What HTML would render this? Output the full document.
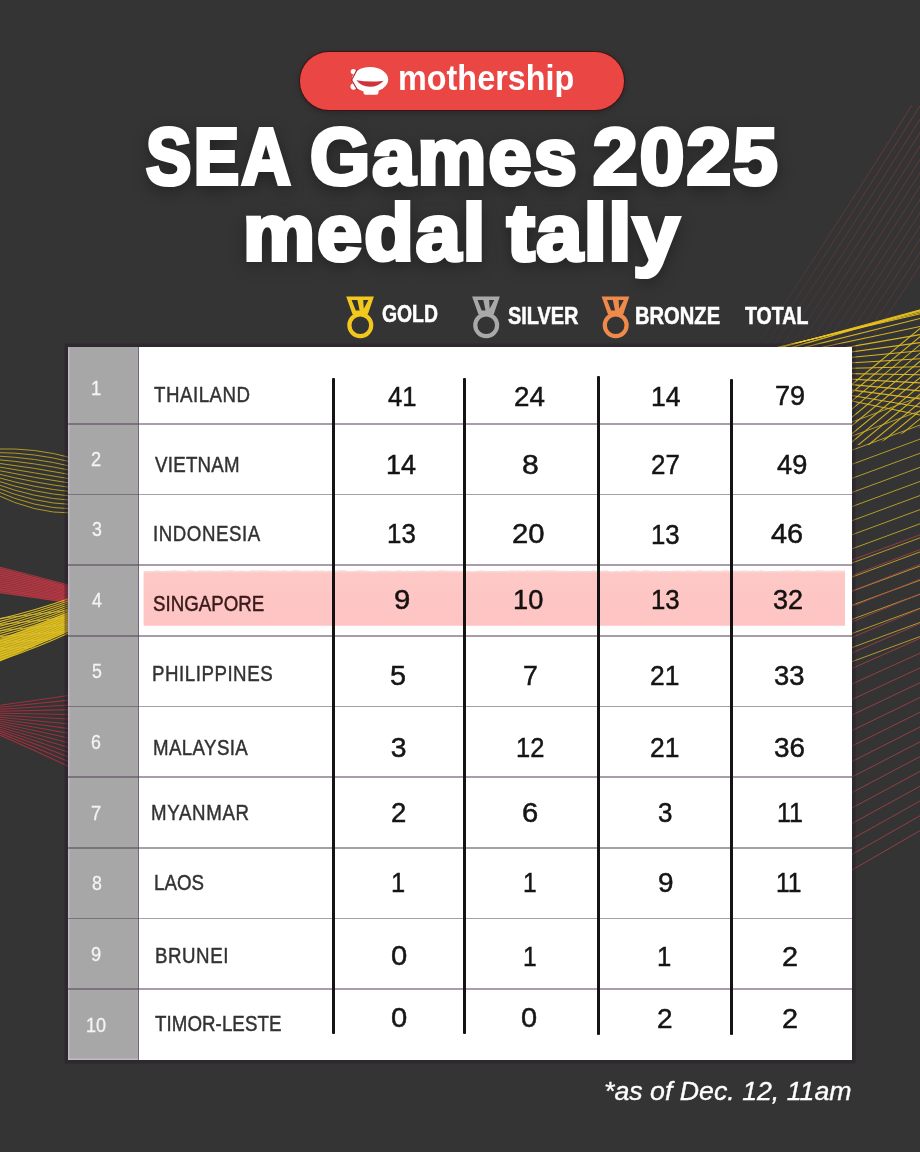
<!DOCTYPE html>
<html><head><meta charset="utf-8">
<style>
html,body{margin:0;padding:0;}
body{width:920px;height:1152px;overflow:hidden;background:#343434;position:relative;font-family:"Liberation Sans",sans-serif;}
.t{position:absolute;white-space:nowrap;transform-origin:0 0;}
.title{text-shadow:0 4px 16px rgba(0,0,0,0.5);-webkit-text-stroke:4.2px #fff;}
.hdr{-webkit-text-stroke:0.5px #fff;}
.foot{-webkit-text-stroke:0.35px #fff;}
#bg{position:absolute;left:0;top:0;}
.pill{position:absolute;left:300px;top:52px;width:324.2px;height:57.7px;border-radius:28.85px;background:#e94644;box-shadow:0 0 0 1px rgba(70,12,12,0.75),0 2px 6px rgba(0,0,0,0.3);}
.tbl{position:absolute;left:67.8px;top:346.5px;width:784.2px;height:713.1px;background:#fff;box-shadow:0 0 0 3.5px rgba(40,22,45,0.38);}
.gcol{position:absolute;left:67.8px;top:346.5px;width:71.3px;height:713.1px;background:#a7a7a7;border-right:1.3px solid #76657e;box-sizing:border-box;box-shadow:inset 1.5px 0 0 rgba(215,200,220,0.55), inset 0 -1.5px 0 rgba(215,200,220,0.55);}
.rl{position:absolute;left:67.8px;width:784.2px;height:1.7px;background:rgba(80,62,86,0.5);}
.vl{position:absolute;width:3px;background:#141414;border-radius:1px;}
.hl{position:absolute;left:143.6px;top:569px;width:701.4px;height:57px;mix-blend-mode:multiply;}
.nm{-webkit-text-stroke:0.45px currentColor;}
.num{-webkit-text-stroke:0.5px #151515;}
.rk{-webkit-text-stroke:0.3px #f4f4f4;}
</style></head><body>
<svg id="bg" width="920" height="1152" viewBox="0 0 920 1152">
<path d="M-5.0,449.0 Q35.0,447.5 72.0,458.0" fill="none" stroke="#c4aa22" stroke-width="1.0" opacity="0.85"/>
<path d="M-5.0,452.5 Q35.0,452.6 72.0,462.2" fill="none" stroke="#c4aa22" stroke-width="1.0" opacity="0.85"/>
<path d="M-5.0,455.9 Q35.0,457.7 72.0,466.5" fill="none" stroke="#c4aa22" stroke-width="1.0" opacity="0.85"/>
<path d="M-5.0,459.4 Q35.0,462.7 72.0,470.7" fill="none" stroke="#c4aa22" stroke-width="1.0" opacity="0.85"/>
<path d="M-5.0,462.8 Q35.0,467.8 72.0,474.9" fill="none" stroke="#c4aa22" stroke-width="1.0" opacity="0.85"/>
<path d="M-5.0,466.3 Q35.0,472.9 72.0,479.2" fill="none" stroke="#c4aa22" stroke-width="1.0" opacity="0.85"/>
<path d="M-5.0,469.8 Q35.0,478.0 72.0,483.4" fill="none" stroke="#c4aa22" stroke-width="1.0" opacity="0.85"/>
<path d="M-5.0,473.2 Q35.0,483.0 72.0,487.6" fill="none" stroke="#c4aa22" stroke-width="1.0" opacity="0.85"/>
<path d="M-5.0,476.7 Q35.0,488.1 72.0,491.8" fill="none" stroke="#c4aa22" stroke-width="1.0" opacity="0.85"/>
<path d="M-5.0,480.2 Q35.0,493.2 72.0,496.1" fill="none" stroke="#c4aa22" stroke-width="1.0" opacity="0.85"/>
<path d="M-5.0,483.6 Q35.0,498.3 72.0,500.3" fill="none" stroke="#c4aa22" stroke-width="1.0" opacity="0.85"/>
<path d="M-5.0,487.1 Q35.0,503.3 72.0,504.5" fill="none" stroke="#c4aa22" stroke-width="1.0" opacity="0.85"/>
<path d="M-5.0,490.5 Q35.0,508.4 72.0,508.8" fill="none" stroke="#c4aa22" stroke-width="1.0" opacity="0.85"/>
<path d="M-5.0,494.0 Q35.0,513.5 72.0,513.0" fill="none" stroke="#c4aa22" stroke-width="1.0" opacity="0.85"/>
<polygon points="-2,567 68,586 68,603 -2,592" fill="#b8343f" opacity="0.55"/>
<path d="M-5.0,566.0 Q35.0,576.0 72.0,586.0" fill="none" stroke="#c23a46" stroke-width="1.2" opacity="0.8"/>
<path d="M-5.0,568.0 Q35.0,577.7 72.0,587.3" fill="none" stroke="#c23a46" stroke-width="1.2" opacity="0.8"/>
<path d="M-5.0,570.0 Q35.0,579.3 72.0,588.6" fill="none" stroke="#c23a46" stroke-width="1.2" opacity="0.8"/>
<path d="M-5.0,572.0 Q35.0,581.0 72.0,589.9" fill="none" stroke="#c23a46" stroke-width="1.2" opacity="0.8"/>
<path d="M-5.0,574.0 Q35.0,582.6 72.0,591.2" fill="none" stroke="#c23a46" stroke-width="1.2" opacity="0.8"/>
<path d="M-5.0,576.0 Q35.0,584.3 72.0,592.5" fill="none" stroke="#c23a46" stroke-width="1.2" opacity="0.8"/>
<path d="M-5.0,578.0 Q35.0,585.9 72.0,593.8" fill="none" stroke="#c23a46" stroke-width="1.2" opacity="0.8"/>
<path d="M-5.0,580.0 Q35.0,587.6 72.0,595.2" fill="none" stroke="#c23a46" stroke-width="1.2" opacity="0.8"/>
<path d="M-5.0,582.0 Q35.0,589.2 72.0,596.5" fill="none" stroke="#c23a46" stroke-width="1.2" opacity="0.8"/>
<path d="M-5.0,584.0 Q35.0,590.9 72.0,597.8" fill="none" stroke="#c23a46" stroke-width="1.2" opacity="0.8"/>
<path d="M-5.0,586.0 Q35.0,592.5 72.0,599.1" fill="none" stroke="#c23a46" stroke-width="1.2" opacity="0.8"/>
<path d="M-5.0,588.0 Q35.0,594.2 72.0,600.4" fill="none" stroke="#c23a46" stroke-width="1.2" opacity="0.8"/>
<path d="M-5.0,590.0 Q35.0,595.8 72.0,601.7" fill="none" stroke="#c23a46" stroke-width="1.2" opacity="0.8"/>
<path d="M-5.0,592.0 Q35.0,597.5 72.0,603.0" fill="none" stroke="#c23a46" stroke-width="1.2" opacity="0.8"/>
<polygon points="-2,640 68,612 68,631.5 -2,662.5" fill="#e9c81c" opacity="0.75"/>
<path d="M-5.0,620.0 Q35.0,610.8 72.0,597.5" fill="none" stroke="#e8c51c" stroke-width="1.2" opacity="0.9"/>
<path d="M-5.0,622.5 Q35.0,613.0 72.0,599.5" fill="none" stroke="#e8c51c" stroke-width="1.2" opacity="0.9"/>
<path d="M-5.0,624.9 Q35.0,615.2 72.0,601.5" fill="none" stroke="#e8c51c" stroke-width="1.2" opacity="0.9"/>
<path d="M-5.0,627.4 Q35.0,617.5 72.0,603.5" fill="none" stroke="#e8c51c" stroke-width="1.2" opacity="0.9"/>
<path d="M-5.0,629.9 Q35.0,619.7 72.0,605.5" fill="none" stroke="#e8c51c" stroke-width="1.2" opacity="0.9"/>
<path d="M-5.0,632.4 Q35.0,621.9 72.0,607.5" fill="none" stroke="#e8c51c" stroke-width="1.2" opacity="0.9"/>
<path d="M-5.0,634.8 Q35.0,624.2 72.0,609.5" fill="none" stroke="#e8c51c" stroke-width="1.2" opacity="0.9"/>
<path d="M-5.0,637.3 Q35.0,626.4 72.0,611.5" fill="none" stroke="#e8c51c" stroke-width="1.2" opacity="0.9"/>
<path d="M-5.0,639.8 Q35.0,628.6 72.0,613.5" fill="none" stroke="#e8c51c" stroke-width="1.2" opacity="0.9"/>
<path d="M-5.0,642.2 Q35.0,630.9 72.0,615.5" fill="none" stroke="#e8c51c" stroke-width="1.2" opacity="0.9"/>
<path d="M-5.0,644.7 Q35.0,633.1 72.0,617.5" fill="none" stroke="#e8c51c" stroke-width="1.2" opacity="0.9"/>
<path d="M-5.0,647.2 Q35.0,635.3 72.0,619.5" fill="none" stroke="#e8c51c" stroke-width="1.2" opacity="0.9"/>
<path d="M-5.0,649.6 Q35.0,637.6 72.0,621.5" fill="none" stroke="#e8c51c" stroke-width="1.2" opacity="0.9"/>
<path d="M-5.0,652.1 Q35.0,639.8 72.0,623.5" fill="none" stroke="#e8c51c" stroke-width="1.2" opacity="0.9"/>
<path d="M-5.0,654.6 Q35.0,642.0 72.0,625.5" fill="none" stroke="#e8c51c" stroke-width="1.2" opacity="0.9"/>
<path d="M-5.0,657.1 Q35.0,644.3 72.0,627.5" fill="none" stroke="#e8c51c" stroke-width="1.2" opacity="0.9"/>
<path d="M-5.0,659.5 Q35.0,646.5 72.0,629.5" fill="none" stroke="#e8c51c" stroke-width="1.2" opacity="0.9"/>
<path d="M-5.0,662.0 Q35.0,648.8 72.0,631.5" fill="none" stroke="#e8c51c" stroke-width="1.2" opacity="0.9"/>
<clipPath id="bc"><polygon points="-2,618 68,597 68,632 -2,663"/></clipPath><g clip-path="url(#bc)">
<line x1="-5.0" y1="619.0" x2="72.0" y2="610.0" stroke="#d8c040" stroke-width="1" opacity="0.8"/>
<line x1="-5.0" y1="625.0" x2="72.0" y2="617.0" stroke="#d8c040" stroke-width="1" opacity="0.8"/>
<line x1="-5.0" y1="631.0" x2="72.0" y2="624.0" stroke="#d8c040" stroke-width="1" opacity="0.8"/>
<line x1="-5.0" y1="637.0" x2="72.0" y2="631.0" stroke="#d8c040" stroke-width="1" opacity="0.8"/>
<line x1="-5.0" y1="643.0" x2="72.0" y2="638.0" stroke="#d8c040" stroke-width="1" opacity="0.8"/>
<line x1="-5.0" y1="649.0" x2="72.0" y2="645.0" stroke="#d8c040" stroke-width="1" opacity="0.8"/>
</g>
<path d="M-5.0,706.0 Q35.0,700.5 72.0,695.0" fill="none" stroke="#b22f3f" stroke-width="1.1" opacity="0.85"/>
<path d="M-5.0,707.8 Q35.0,703.8 72.0,699.9" fill="none" stroke="#b22f3f" stroke-width="1.1" opacity="0.85"/>
<path d="M-5.0,709.6 Q35.0,707.2 72.0,704.7" fill="none" stroke="#b22f3f" stroke-width="1.1" opacity="0.85"/>
<path d="M-5.0,711.4 Q35.0,710.5 72.0,709.6" fill="none" stroke="#b22f3f" stroke-width="1.1" opacity="0.85"/>
<path d="M-5.0,713.2 Q35.0,713.8 72.0,714.5" fill="none" stroke="#b22f3f" stroke-width="1.1" opacity="0.85"/>
<path d="M-5.0,715.0 Q35.0,717.2 72.0,719.3" fill="none" stroke="#b22f3f" stroke-width="1.1" opacity="0.85"/>
<path d="M-5.0,716.8 Q35.0,720.5 72.0,724.2" fill="none" stroke="#b22f3f" stroke-width="1.1" opacity="0.85"/>
<path d="M-5.0,718.6 Q35.0,723.8 72.0,729.1" fill="none" stroke="#b22f3f" stroke-width="1.1" opacity="0.85"/>
<path d="M-5.0,720.4 Q35.0,727.2 72.0,733.9" fill="none" stroke="#b22f3f" stroke-width="1.1" opacity="0.85"/>
<path d="M-5.0,722.2 Q35.0,730.5 72.0,738.8" fill="none" stroke="#b22f3f" stroke-width="1.1" opacity="0.85"/>
<path d="M-5.0,724.0 Q35.0,733.8 72.0,743.7" fill="none" stroke="#b22f3f" stroke-width="1.1" opacity="0.85"/>
<path d="M-5.0,725.8 Q35.0,737.2 72.0,748.5" fill="none" stroke="#b22f3f" stroke-width="1.1" opacity="0.85"/>
<path d="M-5.0,727.6 Q35.0,740.5 72.0,753.4" fill="none" stroke="#b22f3f" stroke-width="1.1" opacity="0.85"/>
<path d="M-5.0,729.4 Q35.0,743.8 72.0,758.3" fill="none" stroke="#b22f3f" stroke-width="1.1" opacity="0.85"/>
<path d="M-5.0,731.2 Q35.0,747.2 72.0,763.1" fill="none" stroke="#b22f3f" stroke-width="1.1" opacity="0.85"/>
<path d="M-5.0,733.0 Q35.0,750.5 72.0,768.0" fill="none" stroke="#b22f3f" stroke-width="1.1" opacity="0.85"/>
<linearGradient id="rg" gradientUnits="userSpaceOnUse" x1="770" y1="350" x2="900" y2="110"><stop offset="0" stop-color="#8f3a3e" stop-opacity="0.1"/><stop offset="0.5" stop-color="#8f3a3e" stop-opacity="0.45"/><stop offset="1" stop-color="#8f3a3e" stop-opacity="0.6"/></linearGradient>
<path d="M754.0,350 Q824.0,245 912.0,105" fill="none" stroke="url(#rg)" stroke-width="1"/>
<path d="M762.5,350 Q832.5,245 920.5,105" fill="none" stroke="url(#rg)" stroke-width="1"/>
<path d="M771.0,350 Q841.0,245 929.0,105" fill="none" stroke="url(#rg)" stroke-width="1"/>
<path d="M779.5,350 Q849.5,245 937.5,105" fill="none" stroke="url(#rg)" stroke-width="1"/>
<path d="M788.0,350 Q858.0,245 946.0,105" fill="none" stroke="url(#rg)" stroke-width="1"/>
<path d="M796.5,350 Q866.5,245 954.5,105" fill="none" stroke="url(#rg)" stroke-width="1"/>
<path d="M805.0,350 Q875.0,245 963.0,105" fill="none" stroke="url(#rg)" stroke-width="1"/>
<path d="M813.5,350 Q883.5,245 971.5,105" fill="none" stroke="url(#rg)" stroke-width="1"/>
<path d="M822.0,350 Q892.0,245 980.0,105" fill="none" stroke="url(#rg)" stroke-width="1"/>
<path d="M830.5,350 Q900.5,245 988.5,105" fill="none" stroke="url(#rg)" stroke-width="1"/>
<path d="M839.0,350 Q909.0,245 997.0,105" fill="none" stroke="url(#rg)" stroke-width="1"/>
<path d="M847.5,350 Q917.5,245 1005.5,105" fill="none" stroke="url(#rg)" stroke-width="1"/>
<path d="M856.0,350 Q926.0,245 1014.0,105" fill="none" stroke="url(#rg)" stroke-width="1"/>
<path d="M864.5,350 Q934.5,245 1022.5,105" fill="none" stroke="url(#rg)" stroke-width="1"/>
<line x1="770.0" y1="353.6" x2="925.0" y2="309.0" stroke="#e0bd22" stroke-width="1.1" opacity="0.95"/>
<line x1="770.0" y1="355.9" x2="925.0" y2="317.2" stroke="#e0bd22" stroke-width="1.1" opacity="0.95"/>
<line x1="770.0" y1="358.3" x2="925.0" y2="325.5" stroke="#e0bd22" stroke-width="1.1" opacity="0.95"/>
<line x1="770.0" y1="360.6" x2="925.0" y2="333.7" stroke="#e0bd22" stroke-width="1.1" opacity="0.95"/>
<line x1="770.0" y1="363.0" x2="925.0" y2="341.9" stroke="#e0bd22" stroke-width="1.1" opacity="0.95"/>
<line x1="770.0" y1="365.3" x2="925.0" y2="350.2" stroke="#e0bd22" stroke-width="1.1" opacity="0.95"/>
<line x1="770.0" y1="367.7" x2="925.0" y2="358.4" stroke="#e0bd22" stroke-width="1.1" opacity="0.95"/>
<line x1="770.0" y1="370.0" x2="925.0" y2="366.6" stroke="#e0bd22" stroke-width="1.1" opacity="0.95"/>
<line x1="770.0" y1="372.4" x2="925.0" y2="374.8" stroke="#e0bd22" stroke-width="1.1" opacity="0.95"/>
<line x1="770.0" y1="374.7" x2="925.0" y2="383.1" stroke="#e0bd22" stroke-width="1.1" opacity="0.95"/>
<line x1="770.0" y1="377.1" x2="925.0" y2="391.3" stroke="#e0bd22" stroke-width="1.1" opacity="0.95"/>
<line x1="770.0" y1="379.4" x2="925.0" y2="399.5" stroke="#e0bd22" stroke-width="1.1" opacity="0.95"/>
<line x1="770.0" y1="381.8" x2="925.0" y2="407.8" stroke="#e0bd22" stroke-width="1.1" opacity="0.95"/>
<line x1="770.0" y1="384.2" x2="925.0" y2="416.0" stroke="#e0bd22" stroke-width="1.1" opacity="0.95"/>
<line x1="770.0" y1="350.5" x2="925.0" y2="308.5" stroke="#f0c81c" stroke-width="1.0" opacity="0.9"/>
<line x1="770.0" y1="350.0" x2="925.0" y2="309.9" stroke="#f0c81c" stroke-width="1.0" opacity="0.9"/>
<line x1="770.0" y1="349.5" x2="925.0" y2="311.3" stroke="#f0c81c" stroke-width="1.0" opacity="0.9"/>
<line x1="770.0" y1="349.0" x2="925.0" y2="312.7" stroke="#f0c81c" stroke-width="1.0" opacity="0.9"/>
<clipPath id="fan"><polygon points="780,347 925,305 925,425 872,445 852,445"/></clipPath><g clip-path="url(#fan)">
<line x1="760.0" y1="460.0" x2="940.0" y2="312.0" stroke="#e0bd22" stroke-width="1.1" opacity="0.9"/>
<line x1="770.0" y1="460.0" x2="950.0" y2="312.0" stroke="#e0bd22" stroke-width="1.1" opacity="0.9"/>
<line x1="780.0" y1="460.0" x2="960.0" y2="312.0" stroke="#e0bd22" stroke-width="1.1" opacity="0.9"/>
<line x1="790.0" y1="460.0" x2="970.0" y2="312.0" stroke="#e0bd22" stroke-width="1.1" opacity="0.9"/>
<line x1="800.0" y1="460.0" x2="980.0" y2="312.0" stroke="#e0bd22" stroke-width="1.1" opacity="0.9"/>
<line x1="810.0" y1="460.0" x2="990.0" y2="312.0" stroke="#e0bd22" stroke-width="1.1" opacity="0.9"/>
<line x1="820.0" y1="460.0" x2="1000.0" y2="312.0" stroke="#e0bd22" stroke-width="1.1" opacity="0.9"/>
<line x1="830.0" y1="460.0" x2="1010.0" y2="312.0" stroke="#e0bd22" stroke-width="1.1" opacity="0.9"/>
<line x1="840.0" y1="460.0" x2="1020.0" y2="312.0" stroke="#e0bd22" stroke-width="1.1" opacity="0.9"/>
<line x1="850.0" y1="460.0" x2="1030.0" y2="312.0" stroke="#e0bd22" stroke-width="1.1" opacity="0.9"/>
<line x1="860.0" y1="460.0" x2="1040.0" y2="312.0" stroke="#e0bd22" stroke-width="1.1" opacity="0.9"/>
<line x1="870.0" y1="460.0" x2="1050.0" y2="312.0" stroke="#e0bd22" stroke-width="1.1" opacity="0.9"/>
<line x1="880.0" y1="460.0" x2="1060.0" y2="312.0" stroke="#e0bd22" stroke-width="1.1" opacity="0.9"/>
<line x1="890.0" y1="460.0" x2="1070.0" y2="312.0" stroke="#e0bd22" stroke-width="1.1" opacity="0.9"/>
<line x1="900.0" y1="460.0" x2="1080.0" y2="312.0" stroke="#e0bd22" stroke-width="1.1" opacity="0.9"/>
<line x1="910.0" y1="460.0" x2="1090.0" y2="312.0" stroke="#e0bd22" stroke-width="1.1" opacity="0.9"/>
<line x1="920.0" y1="460.0" x2="1100.0" y2="312.0" stroke="#e0bd22" stroke-width="1.1" opacity="0.9"/>
<line x1="930.0" y1="460.0" x2="1110.0" y2="312.0" stroke="#e0bd22" stroke-width="1.1" opacity="0.9"/>
<line x1="940.0" y1="460.0" x2="1120.0" y2="312.0" stroke="#e0bd22" stroke-width="1.1" opacity="0.9"/>
<line x1="950.0" y1="460.0" x2="1130.0" y2="312.0" stroke="#e0bd22" stroke-width="1.1" opacity="0.9"/>
<line x1="960.0" y1="460.0" x2="1140.0" y2="312.0" stroke="#e0bd22" stroke-width="1.1" opacity="0.9"/>
<line x1="970.0" y1="460.0" x2="1150.0" y2="312.0" stroke="#e0bd22" stroke-width="1.1" opacity="0.9"/>
</g>
<line x1="850.0" y1="422.7" x2="925.0" y2="395.0" stroke="#c9ad2a" stroke-width="1" opacity="0.85"/>
<line x1="850.0" y1="436.8" x2="925.0" y2="409.1" stroke="#c9ad2a" stroke-width="1" opacity="0.85"/>
<line x1="850.0" y1="450.9" x2="925.0" y2="423.2" stroke="#c9ad2a" stroke-width="1" opacity="0.85"/>
<line x1="850.0" y1="465.0" x2="925.0" y2="437.3" stroke="#c9ad2a" stroke-width="1" opacity="0.85"/>
<line x1="850.0" y1="479.1" x2="925.0" y2="451.4" stroke="#c9ad2a" stroke-width="1" opacity="0.85"/>
<line x1="850.0" y1="493.2" x2="925.0" y2="465.5" stroke="#c9ad2a" stroke-width="1" opacity="0.85"/>
<line x1="850.0" y1="507.3" x2="925.0" y2="479.6" stroke="#c9ad2a" stroke-width="1" opacity="0.85"/>
<line x1="850.0" y1="521.4" x2="925.0" y2="493.7" stroke="#c9ad2a" stroke-width="1" opacity="0.85"/>
<line x1="850.0" y1="535.5" x2="925.0" y2="507.8" stroke="#c9ad2a" stroke-width="1" opacity="0.85"/>
<line x1="850.0" y1="549.6" x2="925.0" y2="521.9" stroke="#c9ad2a" stroke-width="1" opacity="0.85"/>
<line x1="850.0" y1="563.7" x2="925.0" y2="536.0" stroke="#c9ad2a" stroke-width="1" opacity="0.85"/>
<line x1="850.0" y1="577.8" x2="925.0" y2="550.1" stroke="#c9ad2a" stroke-width="1" opacity="0.85"/>
<line x1="850.0" y1="591.9" x2="925.0" y2="564.2" stroke="#c9ad2a" stroke-width="1" opacity="0.85"/>
<line x1="850.0" y1="606.0" x2="925.0" y2="578.3" stroke="#c9ad2a" stroke-width="1" opacity="0.85"/>
<line x1="850.0" y1="620.1" x2="925.0" y2="592.4" stroke="#c9ad2a" stroke-width="1" opacity="0.85"/>
<line x1="850.0" y1="634.2" x2="925.0" y2="606.5" stroke="#c9ad2a" stroke-width="1" opacity="0.85"/>
<line x1="850.0" y1="648.3" x2="925.0" y2="620.6" stroke="#c9ad2a" stroke-width="1" opacity="0.85"/>
<line x1="850.0" y1="662.4" x2="925.0" y2="634.7" stroke="#c9ad2a" stroke-width="1" opacity="0.85"/>
<line x1="850.0" y1="560.7" x2="925.0" y2="533.0" stroke="#a8424a" stroke-width="1" opacity="0.8"/>
<line x1="850.0" y1="576.3" x2="925.0" y2="547.7" stroke="#a8424a" stroke-width="1" opacity="0.8"/>
<line x1="850.0" y1="591.8" x2="925.0" y2="562.5" stroke="#a8424a" stroke-width="1" opacity="0.8"/>
<line x1="850.0" y1="607.3" x2="925.0" y2="577.2" stroke="#a8424a" stroke-width="1" opacity="0.8"/>
<line x1="850.0" y1="622.8" x2="925.0" y2="591.9" stroke="#a8424a" stroke-width="1" opacity="0.8"/>
<line x1="850.0" y1="638.3" x2="925.0" y2="606.7" stroke="#a8424a" stroke-width="1" opacity="0.8"/>
<line x1="850.0" y1="653.9" x2="925.0" y2="621.4" stroke="#a8424a" stroke-width="1" opacity="0.8"/>
<line x1="850.0" y1="669.4" x2="925.0" y2="636.1" stroke="#a8424a" stroke-width="1" opacity="0.8"/>
<line x1="850.0" y1="684.9" x2="925.0" y2="650.9" stroke="#a8424a" stroke-width="1" opacity="0.8"/>
<line x1="850.0" y1="700.4" x2="925.0" y2="665.6" stroke="#a8424a" stroke-width="1" opacity="0.8"/>
<line x1="850.0" y1="716.0" x2="925.0" y2="680.3" stroke="#a8424a" stroke-width="1" opacity="0.8"/>
<line x1="850.0" y1="731.5" x2="925.0" y2="695.1" stroke="#a8424a" stroke-width="1" opacity="0.8"/>
<line x1="850.0" y1="747.0" x2="925.0" y2="709.8" stroke="#a8424a" stroke-width="1" opacity="0.8"/>
<line x1="850.0" y1="762.5" x2="925.0" y2="724.5" stroke="#a8424a" stroke-width="1" opacity="0.8"/>
<line x1="850.0" y1="778.0" x2="925.0" y2="739.3" stroke="#a8424a" stroke-width="1" opacity="0.8"/>
<line x1="850.0" y1="793.6" x2="925.0" y2="754.0" stroke="#a8424a" stroke-width="1" opacity="0.8"/>
<line x1="850.0" y1="809.1" x2="925.0" y2="768.7" stroke="#a8424a" stroke-width="1" opacity="0.8"/>
<line x1="850.0" y1="824.6" x2="925.0" y2="783.5" stroke="#a8424a" stroke-width="1" opacity="0.8"/>
<line x1="850.0" y1="840.1" x2="925.0" y2="798.2" stroke="#a8424a" stroke-width="1" opacity="0.8"/>
<line x1="850.0" y1="855.6" x2="925.0" y2="812.9" stroke="#a8424a" stroke-width="1" opacity="0.8"/>
<line x1="850.0" y1="871.2" x2="925.0" y2="827.7" stroke="#a8424a" stroke-width="1" opacity="0.8"/>
</svg>
<div class="pill"></div>
<svg style="position:absolute;left:0;top:0" width="920" height="1152" viewBox="0 0 920 1152">
  <!-- mothership logo -->
  <g>
    <circle cx="353.4" cy="71.6" r="2.7" fill="#fff"/>
    <circle cx="353.6" cy="86.6" r="3.1" fill="#fff"/>
    <ellipse cx="370" cy="79.6" rx="18.2" ry="12.6" fill="#fff"/>
    <rect x="363.5" y="87" width="15" height="7.8" rx="2.2" fill="#fff"/>
    <path d="M357.3,69.2 L351.6,80 L357.6,90.2" fill="none" stroke="#b02c2c" stroke-width="1.2"/>
    <path d="M356.4,80.3 Q370,82.6 383.6,80.7 Q378.5,86.6 370,86.8 Q361,86.6 356.4,80.3 Z" fill="#cf343a"/>
  </g>
  <!-- medals -->
  <defs>
    <g id="medal">
      <path stroke="none" fill-rule="evenodd" d="M346.2,296.4 L373.9,296.4 L367.8,314.5 L352.6,314.5 Z M351.6,300 L357.4,300 L359.6,310.4 L355.8,310.4 Z M363.2,300 L368.4,300 L363.8,308.8 Z"/>
      <circle cx="360.3" cy="325.3" r="10.9" fill="none" stroke-width="4.2"/>
    </g>
  </defs>
  <use href="#medal" fill="#f3c81e" stroke="#f3c81e"/>
  <use href="#medal" fill="#a9a9a9" stroke="#a9a9a9" transform="translate(125.9,0)"/>
  <use href="#medal" fill="#ef8a4b" stroke="#ef8a4b" transform="translate(255.4,0)"/>
</svg>
<div class="tbl"></div>
<div class="gcol"></div>
<div class="rl" style="top:422.90px"></div><div class="rl" style="top:493.56px"></div><div class="rl" style="top:564.22px"></div><div class="rl" style="top:634.88px"></div><div class="rl" style="top:705.54px"></div><div class="rl" style="top:776.20px"></div><div class="rl" style="top:846.86px"></div><div class="rl" style="top:917.52px"></div><div class="rl" style="top:988.18px"></div>
<div class="vl" style="left:332.10px;top:377.6px;height:656.7px"></div><div class="vl" style="left:463.10px;top:377.6px;height:656.7px"></div><div class="vl" style="left:596.60px;top:375.5px;height:659.3px"></div><div class="vl" style="left:730.10px;top:378.6px;height:656.8px"></div>
<div class="t title" style="left:146.29px;top:117.18px;font-size:80px;line-height:80px;font-weight:700;font-style:normal;color:#fff;transform:scaleX(0.8497);letter-spacing:2.906px;">SEA</div>
<div class="t title" style="left:310.36px;top:117.18px;font-size:80px;line-height:80px;font-weight:700;font-style:normal;color:#fff;transform:scaleX(0.9656);letter-spacing:2.360px;">Games</div>
<div class="t title" style="left:592.84px;top:117.18px;font-size:80px;line-height:80px;font-weight:700;font-style:normal;color:#fff;transform:scaleX(1.0024);letter-spacing:2.092px;">2025</div>
<div class="t title" style="left:243.38px;top:192.78px;font-size:80px;line-height:80px;font-weight:700;font-style:normal;color:#fff;transform:scaleX(1.0130);letter-spacing:1.997px;">medal</div>
<div class="t title" style="left:507.06px;top:192.78px;font-size:80px;line-height:80px;font-weight:700;font-style:normal;color:#fff;transform:scaleX(1.0375);letter-spacing:1.437px;">tally</div>
<div class="t moth" style="left:397.92px;top:60.37px;font-size:35px;line-height:35px;font-weight:700;font-style:normal;color:#fff;transform:scaleX(0.9251);">mothership</div>
<div class="t hdr" style="left:381.56px;top:302.83px;font-size:23px;line-height:23px;font-weight:700;font-style:normal;color:#fff;transform:scaleX(0.8419);">GOLD</div>
<div class="t hdr" style="left:508.05px;top:305.03px;font-size:23px;line-height:23px;font-weight:700;font-style:normal;color:#fff;transform:scaleX(0.8663);">SILVER</div>
<div class="t hdr" style="left:634.69px;top:305.03px;font-size:23px;line-height:23px;font-weight:700;font-style:normal;color:#fff;transform:scaleX(0.8760);">BRONZE</div>
<div class="t hdr" style="left:744.79px;top:305.03px;font-size:23px;line-height:23px;font-weight:700;font-style:normal;color:#fff;transform:scaleX(0.8503);">TOTAL</div>
<div class="t foot" style="left:603.64px;top:1078.74px;font-size:25.7px;line-height:25.7px;font-weight:400;font-style:italic;color:#fff;transform:scaleX(1.0403);">*as of Dec. 12, 11am</div>
<div class="t nm" style="left:154.07px;top:384.28px;font-size:22px;line-height:22px;font-weight:400;font-style:normal;color:#323232;transform:scaleX(0.8500);letter-spacing:0.611px;">THAILAND</div>
<div class="t nm" style="left:154.70px;top:454.08px;font-size:22px;line-height:22px;font-weight:400;font-style:normal;color:#323232;transform:scaleX(0.8500);letter-spacing:0.294px;">VIETNAM</div>
<div class="t nm" style="left:153.30px;top:523.08px;font-size:22px;line-height:22px;font-weight:400;font-style:normal;color:#323232;transform:scaleX(0.8500);letter-spacing:0.642px;">INDONESIA</div>
<div class="t nm" style="left:153.45px;top:592.58px;font-size:22px;line-height:22px;font-weight:400;font-style:normal;color:#3a2222;transform:scaleX(0.8500);letter-spacing:-0.007px;">SINGAPORE</div>
<div class="t nm" style="left:151.51px;top:663.08px;font-size:22px;line-height:22px;font-weight:400;font-style:normal;color:#323232;transform:scaleX(0.8500);letter-spacing:0.618px;">PHILIPPINES</div>
<div class="t nm" style="left:153.21px;top:737.38px;font-size:22px;line-height:22px;font-weight:400;font-style:normal;color:#323232;transform:scaleX(0.8500);letter-spacing:0.450px;">MALAYSIA</div>
<div class="t nm" style="left:151.21px;top:802.28px;font-size:22px;line-height:22px;font-weight:400;font-style:normal;color:#323232;transform:scaleX(0.8500);letter-spacing:0.765px;">MYANMAR</div>
<div class="t nm" style="left:154.01px;top:871.98px;font-size:22px;line-height:22px;font-weight:400;font-style:normal;color:#323232;transform:scaleX(0.8500);letter-spacing:0.078px;">LAOS</div>
<div class="t nm" style="left:154.81px;top:945.48px;font-size:22px;line-height:22px;font-weight:400;font-style:normal;color:#323232;transform:scaleX(0.8500);letter-spacing:0.644px;">BRUNEI</div>
<div class="t nm" style="left:154.57px;top:1012.88px;font-size:22px;line-height:22px;font-weight:400;font-style:normal;color:#323232;transform:scaleX(0.8500);letter-spacing:0.079px;">TIMOR-LESTE</div>
<div class="t rk" style="left:91.21px;top:377.72px;font-size:20.3px;line-height:20.3px;font-weight:400;font-style:normal;color:#f4f4f4;transform:scaleX(0.9000);">1</div>
<div class="t rk" style="left:91.44px;top:448.52px;font-size:20.3px;line-height:20.3px;font-weight:400;font-style:normal;color:#f4f4f4;transform:scaleX(0.9000);">2</div>
<div class="t rk" style="left:91.57px;top:519.32px;font-size:20.3px;line-height:20.3px;font-weight:400;font-style:normal;color:#f4f4f4;transform:scaleX(0.8769);">3</div>
<div class="t rk" style="left:91.56px;top:590.12px;font-size:20.3px;line-height:20.3px;font-weight:400;font-style:normal;color:#f4f4f4;transform:scaleX(0.8780);">4</div>
<div class="t rk" style="left:91.57px;top:660.92px;font-size:20.3px;line-height:20.3px;font-weight:400;font-style:normal;color:#f4f4f4;transform:scaleX(0.8769);">5</div>
<div class="t rk" style="left:91.46px;top:731.72px;font-size:20.3px;line-height:20.3px;font-weight:400;font-style:normal;color:#f4f4f4;transform:scaleX(0.8763);">6</div>
<div class="t rk" style="left:91.44px;top:802.52px;font-size:20.3px;line-height:20.3px;font-weight:400;font-style:normal;color:#f4f4f4;transform:scaleX(0.9000);">7</div>
<div class="t rk" style="left:91.57px;top:873.32px;font-size:20.3px;line-height:20.3px;font-weight:400;font-style:normal;color:#f4f4f4;transform:scaleX(0.8769);">8</div>
<div class="t rk" style="left:91.44px;top:944.12px;font-size:20.3px;line-height:20.3px;font-weight:400;font-style:normal;color:#f4f4f4;transform:scaleX(0.9000);">9</div>
<div class="t rk" style="left:86.17px;top:1014.92px;font-size:20.3px;line-height:20.3px;font-weight:400;font-style:normal;color:#f4f4f4;transform:scaleX(0.8889);">10</div>
<div class="t num" style="left:388.05px;top:381.94px;font-size:28.3px;line-height:28.3px;font-weight:400;font-style:normal;color:#151515;transform:scaleX(0.9051);">41</div>
<div class="t num" style="left:513.73px;top:381.94px;font-size:28.3px;line-height:28.3px;font-weight:400;font-style:normal;color:#151515;transform:scaleX(0.9812);">24</div>
<div class="t num" style="left:650.68px;top:381.94px;font-size:28.3px;line-height:28.3px;font-weight:400;font-style:normal;color:#151515;transform:scaleX(0.9404);">14</div>
<div class="t num" style="left:774.57px;top:380.84px;font-size:28.3px;line-height:28.3px;font-weight:400;font-style:normal;color:#151515;transform:scaleX(0.9565);">79</div>
<div class="t num" style="left:386.35px;top:450.34px;font-size:28.3px;line-height:28.3px;font-weight:400;font-style:normal;color:#151515;transform:scaleX(0.9544);">14</div>
<div class="t num" style="left:521.97px;top:450.34px;font-size:28.3px;line-height:28.3px;font-weight:400;font-style:normal;color:#151515;transform:scaleX(1.0642);">8</div>
<div class="t num" style="left:651.43px;top:449.94px;font-size:28.3px;line-height:28.3px;font-weight:400;font-style:normal;color:#151515;transform:scaleX(0.9158);">27</div>
<div class="t num" style="left:776.92px;top:450.34px;font-size:28.3px;line-height:28.3px;font-weight:400;font-style:normal;color:#151515;transform:scaleX(0.9613);">49</div>
<div class="t num" style="left:386.94px;top:518.64px;font-size:28.3px;line-height:28.3px;font-weight:400;font-style:normal;color:#151515;transform:scaleX(0.9143);">13</div>
<div class="t num" style="left:511.95px;top:518.64px;font-size:28.3px;line-height:28.3px;font-weight:400;font-style:normal;color:#151515;transform:scaleX(1.0345);">20</div>
<div class="t num" style="left:650.75px;top:520.04px;font-size:28.3px;line-height:28.3px;font-weight:400;font-style:normal;color:#151515;transform:scaleX(0.9107);">13</div>
<div class="t num" style="left:770.79px;top:518.64px;font-size:28.3px;line-height:28.3px;font-weight:400;font-style:normal;color:#151515;transform:scaleX(1.0218);">46</div>
<div class="t num" style="left:393.71px;top:584.64px;font-size:28.3px;line-height:28.3px;font-weight:400;font-style:normal;color:#151515;transform:scaleX(1.0340);">9</div>
<div class="t num" style="left:513.43px;top:584.64px;font-size:28.3px;line-height:28.3px;font-weight:400;font-style:normal;color:#151515;transform:scaleX(0.9628);">10</div>
<div class="t num" style="left:650.75px;top:584.84px;font-size:28.3px;line-height:28.3px;font-weight:400;font-style:normal;color:#151515;transform:scaleX(0.9107);">13</div>
<div class="t num" style="left:773.04px;top:584.84px;font-size:28.3px;line-height:28.3px;font-weight:400;font-style:normal;color:#151515;transform:scaleX(0.9552);">32</div>
<div class="t num" style="left:390.43px;top:660.64px;font-size:28.3px;line-height:28.3px;font-weight:400;font-style:normal;color:#151515;transform:scaleX(1.0189);">5</div>
<div class="t num" style="left:522.89px;top:660.84px;font-size:28.3px;line-height:28.3px;font-weight:400;font-style:normal;color:#151515;transform:scaleX(0.9412);">7</div>
<div class="t num" style="left:650.30px;top:660.84px;font-size:28.3px;line-height:28.3px;font-weight:400;font-style:normal;color:#151515;transform:scaleX(0.9333);">21</div>
<div class="t num" style="left:774.23px;top:660.64px;font-size:28.3px;line-height:28.3px;font-weight:400;font-style:normal;color:#151515;transform:scaleX(0.9675);">33</div>
<div class="t num" style="left:390.70px;top:732.64px;font-size:28.3px;line-height:28.3px;font-weight:400;font-style:normal;color:#151515;transform:scaleX(1.0000);">3</div>
<div class="t num" style="left:515.77px;top:733.04px;font-size:28.3px;line-height:28.3px;font-weight:400;font-style:normal;color:#151515;transform:scaleX(0.9009);">12</div>
<div class="t num" style="left:650.30px;top:733.44px;font-size:28.3px;line-height:28.3px;font-weight:400;font-style:normal;color:#151515;transform:scaleX(0.9333);">21</div>
<div class="t num" style="left:774.22px;top:733.44px;font-size:28.3px;line-height:28.3px;font-weight:400;font-style:normal;color:#151515;transform:scaleX(0.9846);">36</div>
<div class="t num" style="left:390.94px;top:798.44px;font-size:28.3px;line-height:28.3px;font-weight:400;font-style:normal;color:#151515;transform:scaleX(0.9725);">2</div>
<div class="t num" style="left:522.45px;top:797.84px;font-size:28.3px;line-height:28.3px;font-weight:400;font-style:normal;color:#151515;transform:scaleX(1.0308);">6</div>
<div class="t num" style="left:658.38px;top:797.84px;font-size:28.3px;line-height:28.3px;font-weight:400;font-style:normal;color:#151515;transform:scaleX(0.9185);">3</div>
<div class="t num" style="left:776.91px;top:798.24px;font-size:28.3px;line-height:28.3px;font-weight:400;font-style:normal;color:#151515;transform:scaleX(0.8854);">11</div>
<div class="t num" style="left:391.48px;top:868.24px;font-size:28.3px;line-height:28.3px;font-weight:400;font-style:normal;color:#151515;transform:scaleX(0.9000);">1</div>
<div class="t num" style="left:522.85px;top:868.24px;font-size:28.3px;line-height:28.3px;font-weight:400;font-style:normal;color:#151515;transform:scaleX(0.8667);">1</div>
<div class="t num" style="left:658.06px;top:867.84px;font-size:28.3px;line-height:28.3px;font-weight:400;font-style:normal;color:#151515;transform:scaleX(0.9887);">9</div>
<div class="t num" style="left:776.34px;top:868.24px;font-size:28.3px;line-height:28.3px;font-weight:400;font-style:normal;color:#151515;transform:scaleX(0.8699);">11</div>
<div class="t num" style="left:390.67px;top:941.44px;font-size:28.3px;line-height:28.3px;font-weight:400;font-style:normal;color:#151515;transform:scaleX(1.0327);">0</div>
<div class="t num" style="left:522.85px;top:941.94px;font-size:28.3px;line-height:28.3px;font-weight:400;font-style:normal;color:#151515;transform:scaleX(0.8667);">1</div>
<div class="t num" style="left:657.26px;top:941.94px;font-size:28.3px;line-height:28.3px;font-weight:400;font-style:normal;color:#151515;transform:scaleX(0.9083);">1</div>
<div class="t num" style="left:781.77px;top:941.94px;font-size:28.3px;line-height:28.3px;font-weight:400;font-style:normal;color:#151515;transform:scaleX(1.0196);">2</div>
<div class="t num" style="left:390.67px;top:1003.34px;font-size:28.3px;line-height:28.3px;font-weight:400;font-style:normal;color:#151515;transform:scaleX(1.0327);">0</div>
<div class="t num" style="left:521.17px;top:1003.34px;font-size:28.3px;line-height:28.3px;font-weight:400;font-style:normal;color:#151515;transform:scaleX(1.0255);">0</div>
<div class="t num" style="left:657.22px;top:1003.84px;font-size:28.3px;line-height:28.3px;font-weight:400;font-style:normal;color:#151515;transform:scaleX(0.9882);">2</div>
<div class="t num" style="left:781.77px;top:1003.84px;font-size:28.3px;line-height:28.3px;font-weight:400;font-style:normal;color:#151515;transform:scaleX(1.0196);">2</div>
<svg style="position:absolute;left:0;top:0;mix-blend-mode:multiply" width="920" height="1152" viewBox="0 0 920 1152"><defs><linearGradient id="pk" x1="0" y1="0" x2="0" y2="1"><stop offset="0" stop-color="#fde3e1"/><stop offset="0.06" stop-color="#fdc8c6"/><stop offset="1" stop-color="#fdc4c2"/></linearGradient></defs><path d="M143.6,625.8 L143.6,570.7 L147.8,571.0 L152.7,570.9 L157.4,570.0 L160.8,571.1 L164.8,571.1 L167.1,570.6 L169.8,570.7 L173.6,570.0 L176.2,570.3 L181.0,570.9 L183.4,571.0 L185.9,570.7 L188.2,570.0 L192.9,570.3 L195.5,571.2 L200.1,570.3 L205.0,570.6 L209.0,570.2 L213.9,570.8 L218.8,571.1 L221.7,570.4 L224.2,570.2 L226.3,570.4 L230.2,570.0 L234.2,570.4 L237.1,571.0 L240.6,570.4 L244.0,570.8 L246.2,571.2 L248.2,570.9 L252.8,570.0 L257.1,570.4 L260.9,570.0 L263.0,570.2 L267.9,570.2 L272.2,571.1 L277.0,570.4 L280.0,570.6 L284.4,570.1 L288.6,571.0 L293.2,570.0 L298.0,570.1 L301.1,570.7 L305.8,570.4 L310.6,570.7 L313.5,570.4 L316.0,570.1 L318.5,570.8 L323.5,570.2 L325.6,571.2 L329.2,570.5 L331.9,570.7 L336.4,570.5 L339.7,570.1 L344.4,570.0 L347.9,571.0 L350.3,570.9 L355.2,570.8 L359.5,570.1 L362.8,570.2 L367.4,570.4 L370.7,571.2 L375.3,571.2 L378.6,570.6 L382.8,570.6 L385.7,570.5 L388.1,570.5 L393.1,571.2 L397.0,570.6 L400.0,570.1 L402.8,570.9 L407.4,570.4 L411.8,570.9 L415.9,570.8 L420.1,570.4 L424.3,570.3 L427.7,570.9 L431.8,570.4 L436.6,570.8 L440.4,570.0 L444.0,570.3 L448.0,570.6 L452.5,570.8 L456.9,570.4 L460.8,570.9 L465.3,570.4 L469.8,571.0 L473.9,571.2 L478.7,570.6 L482.3,570.2 L486.8,571.1 L490.3,570.8 L494.4,570.9 L496.9,570.9 L500.7,570.8 L503.9,570.7 L508.3,570.8 L512.4,570.0 L514.9,570.5 L518.9,570.3 L522.9,570.8 L525.0,570.6 L527.7,570.1 L530.1,570.4 L532.7,570.2 L534.8,570.6 L537.9,570.7 L541.7,570.3 L546.4,570.0 L549.6,570.3 L552.8,570.1 L557.3,570.4 L559.4,570.7 L561.7,570.7 L564.8,570.7 L569.6,571.0 L572.9,571.0 L576.8,570.4 L579.2,570.7 L582.9,571.1 L587.8,570.7 L590.9,571.1 L592.9,570.1 L596.6,570.7 L599.0,570.8 L603.7,570.5 L607.0,570.3 L609.9,571.2 L613.0,571.2 L617.7,570.7 L620.5,571.2 L624.0,570.5 L627.0,571.2 L630.4,570.3 L633.9,570.1 L637.7,570.5 L640.6,570.9 L645.1,570.0 L648.7,570.3 L653.5,570.9 L656.2,570.3 L658.7,571.2 L661.6,570.7 L665.0,570.8 L668.8,570.9 L671.2,570.9 L674.1,570.6 L677.1,570.4 L680.7,570.6 L683.7,570.9 L687.5,570.0 L690.3,570.5 L695.0,571.1 L698.7,570.0 L703.0,570.5 L706.7,570.8 L710.6,570.6 L715.4,570.5 L718.5,571.0 L721.1,570.4 L725.6,570.1 L730.1,570.8 L733.4,570.3 L737.8,571.1 L740.2,570.6 L743.8,570.6 L746.8,570.2 L750.6,571.0 L752.8,570.3 L757.3,571.0 L761.2,570.0 L765.4,571.2 L770.4,570.8 L772.6,571.0 L775.2,570.8 L780.1,570.9 L782.5,570.4 L787.2,570.2 L791.1,570.5 L793.5,570.7 L795.7,570.1 L798.8,570.1 L801.0,570.7 L805.2,571.1 L807.6,570.5 L810.6,570.7 L814.0,571.1 L817.1,570.1 L821.2,570.2 L825.1,570.6 L829.9,570.7 L833.7,570.3 L837.4,570.3 L841.6,570.6 L844.0,570.3 L845.0,570.6 L845.0,625.8 Z" fill="url(#pk)"/></svg>
</body></html>
